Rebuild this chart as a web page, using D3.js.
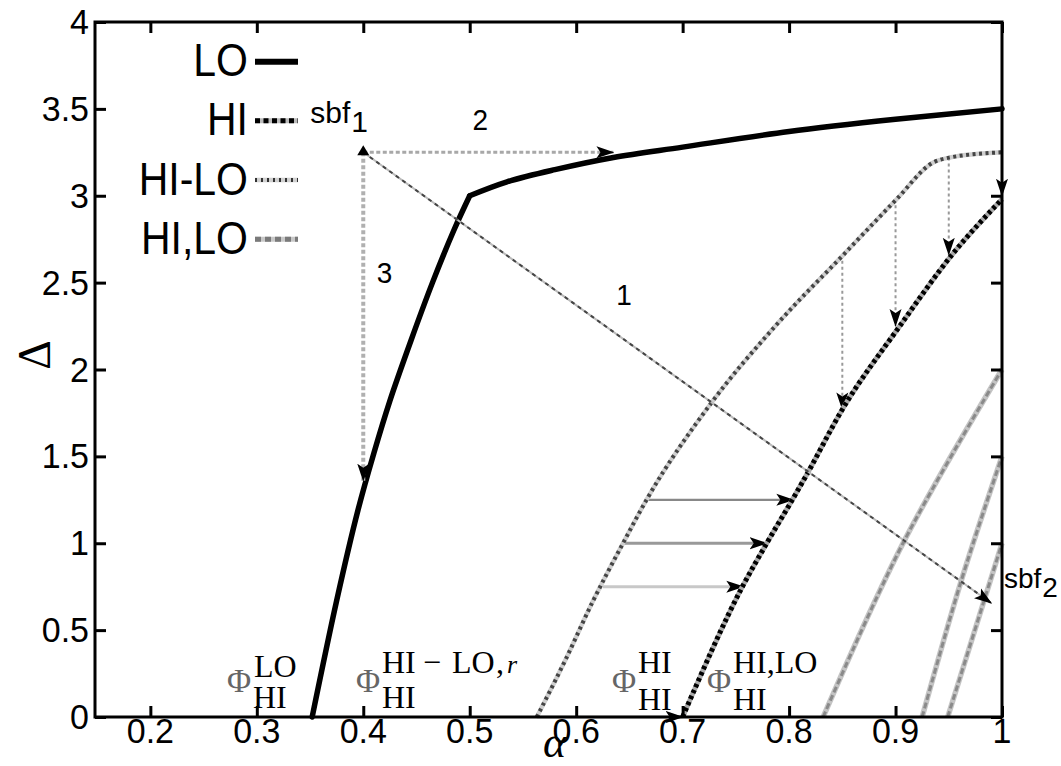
<!DOCTYPE html>
<html><head><meta charset="utf-8">
<script src="https://cdn.jsdelivr.net/npm/d3@7"></script>
<style>html,body{margin:0;padding:0;background:#fff;}</style>
</head><body>
<svg id="chart" width="1061" height="766"></svg>
<script>
// ---------- data ----------
const xTickValues = [0.2, 0.3, 0.4, 0.5, 0.6, 0.7, 0.8, 0.9, 1];
const xTickLabels = ["0.2", "0.3", "0.4", "0.5", "0.6", "0.7", "0.8", "0.9", "1"];
const yTickValues = [0, 0.5, 1, 1.5, 2, 2.5, 3, 3.5, 4];
const yTickLabels = ["0", "0.5", "1", "1.5", "2", "2.5", "3", "3.5", "4"];

const legendNames = ["LO", "HI", "HI-LO", "HI,LO"];

// LO boundary (alpha, Delta): lower branch up to the corner, then upper branch
const loLower = [[0.352,0],[0.375,0.67],[0.395,1.19],[0.41,1.52],[0.425,1.82],[0.445,2.17],[0.465,2.50],[0.485,2.80],[0.5,3.0]];
const loUpper = [[0.5,3.0],[0.535,3.08],[0.58,3.15],[0.635,3.22],[0.7,3.28],[0.8,3.37],[0.9,3.44],[1.0,3.50]];
// HI-LO boundary
const hiloCurve = [[0.563,0],[0.59,0.33],[0.616,0.67],[0.644,1.0],[0.667,1.26],[0.726,1.8],[0.79,2.27],[0.851,2.66],
  [0.901,2.98],[0.935,3.19],[0.951,3.22],[1.0,3.25]];
// HI boundary
const hiCurve = [[0.700,0],[0.757,0.76],[0.779,1.0],[0.804,1.26],[0.817,1.40],[0.85,1.77],[0.904,2.25],[0.953,2.66],[1.0,2.98]];
// HI,LO lines
const hiloLineA = [[0.832,0],[0.907,1.0],[1.0,2.0]];
const hiloLineB = [[0.925,0],[0.961,0.77],[1.0,1.5]];
const hiloLineC = [[0.949,0],[1.0,1.0]];

// horizontal arrows (HI-LO -> HI)
const hArrowDelta = [1.25, 1.0, 0.75, 0];
const hArrowFrom  = [0.667, 0.644, 0.625, 0.563];
const hArrowTo    = [0.804, 0.779, 0.757, 0.700];
// vertical arrows (HI-LO -> HI)
const vArrowAlpha = [0.85, 0.9, 0.95, 1.0];
const vArrowFrom  = [2.66, 2.98, 3.22, 3.25];
const vArrowTo    = [1.77, 2.25, 2.66, 3.0];

// switching points
const sbf1 = [0.4, 3.25];
const sbf2 = [0.99, 0.655];
const path2End = [0.635, 3.22];
const path3End = [0.4, 1.36];
const pathLabels = ["1", "2", "3"];
const pathLabelPos = [[0.645, 2.37], [0.51, 3.38], [0.42, 2.5]];

// ---------- drawing ----------
const svg = d3.select("#chart");
const L = 95, R = 1002, T = 22, B = 717;
const x = d3.scaleLinear().domain([0.148, 1.0]).range([L, R]);
const y = d3.scaleLinear().domain([0, 4]).range([B, T]);

svg.append("rect").attr("width",1061).attr("height",766).attr("fill","#fff");

const defs = svg.append("defs");
defs.append("marker").attr("id","ah").attr("viewBox","0 -7 18 14")
  .attr("refX",17).attr("refY",0).attr("markerWidth",18).attr("markerHeight",14)
  .attr("markerUnits","userSpaceOnUse").attr("orient","auto")
  .append("path").attr("d","M0,-6L18,0L0,6L4,0Z").attr("fill","#000");

const smooth = d3.line().x(d => x(d[0])).y(d => y(d[1])).curve(d3.curveMonotoneX);
const cat = d3.line().x(d => x(d[0])).y(d => y(d[1])).curve(d3.curveCatmullRom.alpha(0.5));

const plot = svg.append("g");

// HI,LO lines
[hiloLineA, hiloLineB, hiloLineC].forEach(ln => {
  plot.append("path").attr("d", cat(ln)).attr("fill","none").attr("stroke","#c4c4c4").attr("stroke-width",5.5);
  plot.append("path").attr("d", cat(ln)).attr("fill","none").attr("stroke","#8a8a8a").attr("stroke-width",3)
    .attr("stroke-dasharray","6,3");
});

// horizontal arrows
const hStyles = [{c:"#888", w:2.2}, {c:"#999", w:3}, {c:"#c8c8c8", w:3}, {c:"#cfcfcf", w:3}];
hArrowDelta.forEach((d, i) => {
  plot.append("line").attr("x1", x(hArrowFrom[i])).attr("x2", x(hArrowTo[i]))
    .attr("y1", y(d)).attr("y2", y(d)).attr("stroke", hStyles[i].c).attr("stroke-width", hStyles[i].w)
    .attr("marker-end","url(#ah)");
});
// vertical arrows
vArrowAlpha.forEach((a, i) => {
  plot.append("line").attr("x1", x(a)).attr("x2", x(a)).attr("y1", y(vArrowFrom[i])).attr("y2", y(vArrowTo[i]))
    .attr("stroke","#999").attr("stroke-width",2).attr("stroke-dasharray","3,3")
    .attr("marker-end","url(#ah)");
});

// HI-LO curve (dotted gray)
plot.append("path").attr("d", smooth(hiloCurve)).attr("fill","none").attr("stroke","#cfcfcf").attr("stroke-width",4.5);
plot.append("path").attr("d", smooth(hiloCurve)).attr("fill","none").attr("stroke","#444").attr("stroke-width",4)
  .attr("stroke-dasharray","3,3.5");
// HI curve (dotted black)
plot.append("path").attr("d", smooth(hiCurve)).attr("fill","none").attr("stroke","#aaa").attr("stroke-width",5);
plot.append("path").attr("d", smooth(hiCurve)).attr("fill","none").attr("stroke","#000").attr("stroke-width",5)
  .attr("stroke-dasharray","3.5,3");
// LO curve
[loLower, loUpper].forEach(seg => {
  plot.append("path").attr("d", cat(seg)).attr("fill","none").attr("stroke","#000").attr("stroke-width",5.5)
    .attr("stroke-linejoin","round").attr("stroke-linecap","round");
});

// path 1 (sbf1 -> sbf2)
plot.append("line").attr("x1", x(sbf1[0])).attr("y1", y(sbf1[1])).attr("x2", x(sbf2[0])).attr("y2", y(sbf2[1]))
  .attr("stroke","#bbb").attr("stroke-width",2);
plot.append("line").attr("x1", x(sbf1[0])).attr("y1", y(sbf1[1])).attr("x2", x(sbf2[0])).attr("y2", y(sbf2[1]))
  .attr("stroke","#444").attr("stroke-width",2).attr("stroke-dasharray","4,4")
  .attr("marker-end","url(#ah)");
// path 2 (horizontal)
plot.append("line").attr("x1", x(sbf1[0])).attr("y1", y(sbf1[1])).attr("x2", x(path2End[0])).attr("y2", y(sbf1[1]))
  .attr("stroke","#a8a8a8").attr("stroke-width",3).attr("stroke-dasharray","4,2.5")
  .attr("marker-end","url(#ah)");
// path 3 (vertical)
plot.append("line").attr("x1", x(sbf1[0])).attr("y1", y(sbf1[1])).attr("x2", x(path3End[0])).attr("y2", y(path3End[1]))
  .attr("stroke","#b0b0b0").attr("stroke-width",4).attr("stroke-dasharray","4,2.5")
  .attr("marker-end","url(#ah)");
// sbf1 marker
plot.append("path").attr("transform", `translate(${x(sbf1[0])},${y(sbf1[1])})`)
  .attr("d","M0,-7L6,3L-6,3Z").attr("fill","#000");

// ---------- axes ----------
const ax = svg.append("g").attr("fill","none");
ax.append("g").attr("transform",`translate(0,${B})`)
  .call(d3.axisBottom(x).tickValues(xTickValues).tickSize(-11).tickFormat(""));
ax.append("g").attr("transform",`translate(0,${T})`)
  .call(d3.axisTop(x).tickValues(xTickValues).tickSize(-11).tickFormat(""));
ax.append("g").attr("transform",`translate(${L},0)`)
  .call(d3.axisLeft(y).tickValues(yTickValues).tickSize(-11).tickFormat(""));
ax.append("g").attr("transform",`translate(${R},0)`)
  .call(d3.axisRight(y).tickValues(yTickValues).tickSize(-11).tickFormat(""));
ax.selectAll(".domain").remove();
ax.selectAll(".tick line").attr("stroke","#000").attr("stroke-width",3);
svg.append("rect").attr("x",L).attr("y",T).attr("width",R-L).attr("height",B-T)
  .attr("fill","none").attr("stroke","#000").attr("stroke-width",3);

const sans = "'Liberation Sans', Arial, sans-serif";
const serif = "'Liberation Serif', 'Times New Roman', serif";
function sText(px, py, str, size, anchor, sy) {
  return svg.append("text").attr("transform", `translate(${px},${py}) scale(1,${sy||1.1})`)
    .attr("font-family", sans).attr("font-size", size).attr("text-anchor", anchor || "start")
    .attr("fill","#000").text(str);
}
xTickValues.forEach((v, i) => sText(x(v), 743, xTickLabels[i], 34, "middle", 1.05));
yTickValues.forEach((v, i) => sText(89, y(v) + 12, yTickLabels[i], 34, "end", 1.05));

// legend
const legY = [61.7, 120.7, 180, 239.3];
legendNames.forEach((n, i) => {
  sText(248, legY[i] + 14.5, n, 41, "end", 1.12);
});
const lg = svg.append("g");
lg.append("line").attr("x1",255).attr("x2",298).attr("y1",legY[0]).attr("y2",legY[0]).attr("stroke","#000").attr("stroke-width",6);
lg.append("line").attr("x1",255).attr("x2",298).attr("y1",legY[1]).attr("y2",legY[1]).attr("stroke","#bbb").attr("stroke-width",5);
lg.append("line").attr("x1",255).attr("x2",298).attr("y1",legY[1]).attr("y2",legY[1]).attr("stroke","#000").attr("stroke-width",5).attr("stroke-dasharray","5,3.5");
lg.append("line").attr("x1",255).attr("x2",298).attr("y1",legY[2]).attr("y2",legY[2]).attr("stroke","#d0d0d0").attr("stroke-width",4.5);
lg.append("line").attr("x1",255).attr("x2",298).attr("y1",legY[2]).attr("y2",legY[2]).attr("stroke","#333").attr("stroke-width",4).attr("stroke-dasharray","2,4");
lg.append("line").attr("x1",255).attr("x2",298).attr("y1",legY[3]).attr("y2",legY[3]).attr("stroke","#c8c8c8").attr("stroke-width",5);
lg.append("line").attr("x1",255).attr("x2",298).attr("y1",legY[3]).attr("y2",legY[3]).attr("stroke","#7a7a7a").attr("stroke-width",5).attr("stroke-dasharray","6,4");

// sbf labels (one text element each, subscript as tspan)
function sbfLabel(px, py, sub, size) {
  const t = svg.append("text").attr("x", px).attr("y", py).attr("font-family", sans)
    .attr("font-size", size).attr("fill","#000");
  t.append("tspan").text("sbf");
  t.append("tspan").attr("dx", 1).attr("dy", 9).text(sub);
}
sbfLabel(x(sbf1[0]) - 53, y(sbf1[1]) - 29, "1", 30);
sbfLabel(1004, 588, "2", 28);
// path labels
pathLabels.forEach((p, i) => sText(x(pathLabelPos[i][0]), y(pathLabelPos[i][1]), p, 28, "middle", 1.05));

// axis titles
svg.append("text").attr("x", 543).attr("y", 757).attr("font-family", serif).attr("font-style","italic")
  .attr("font-size", 44).attr("fill","#000").text("α");
svg.append("text").attr("transform","translate(50,355) rotate(-90)").attr("text-anchor","middle")
  .attr("font-family", serif).attr("font-size", 46).attr("fill","#000").text("Δ");

// Phi annotations: one text element each with Φ, superscript and subscript tspans
function phi(px, sup, sub, supY, subY) {
  const t = svg.append("text").attr("font-family", serif).attr("font-size", 32).attr("fill","#000");
  t.append("tspan").attr("x", px - 1).attr("y", 692).attr("fill","#666").attr("font-size",33).text("Φ");
  sup.forEach(s => t.append("tspan").attr("x", s[0]).attr("y", supY).attr("font-style", s[2] ? "italic" : null)
    .attr("font-size", s[2] ? 26 : null).text(s[1]));
  t.append("tspan").attr("x", px + 25).attr("y", subY).text(sub);
}
phi(228, [[254, "LO"]], "HI", 677, 708);
phi(357, [[382, "HI"], [423, "−"], [452, "LO"], [496, ","], [507, "r", true]], "HI", 673, 708);
phi(613, [[638, "HI"]], "HI", 673, 710);
phi(708, [[733, "HI,LO"]], "HI", 673, 710);
</script>
</body></html>
